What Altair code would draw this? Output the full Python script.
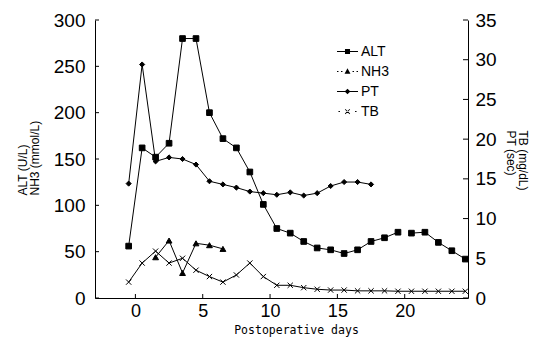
import altair as alt
import pandas as pd

# x positions (postoperative day) of the daily measurements
days = [-0.5, 0.5, 1.5, 2.5, 3.5, 4.5, 5.5, 6.5, 7.5, 8.5, 9.5, 10.5, 11.5,
        12.5, 13.5, 14.5, 15.5, 16.5, 17.5, 18.5, 19.5, 20.5, 21.5, 22.5, 23.5, 24.5]

alt_vals = [56, 162, 152, 167, 280, 280, 200, 172, 162, 136, 101, 75, 70,
            61, 54, 52, 48, 52, 61, 65, 71, 70, 71, 60, 51, 42]
# the ALT line is broken between day 19.5 and day 20.5
alt_segment = ["a"] * 21 + ["b"] * 5
nh3_days = [1.5, 2.5, 3.5, 4.5, 5.5, 6.5]
nh3_vals = [44, 62, 27, 59, 57, 53]
pt_days = [-0.5, 0.5, 1.5, 2.5, 3.5, 4.5, 5.5, 6.5, 7.5, 8.5, 9.5, 10.5, 11.5,
           12.5, 13.5, 14.5, 15.5, 16.5, 17.5]
pt_vals = [14.4, 29.4, 17.2, 17.7, 17.5, 16.8, 14.7, 14.3, 13.9, 13.4, 13.2, 13.0,
           13.3, 12.9, 13.2, 14.1, 14.6, 14.6, 14.3]
tb_vals = [2.0, 4.4, 5.9, 4.4, 5.0, 3.5, 2.7, 2.0, 2.9, 4.4, 2.7, 1.6, 1.6,
           1.3, 1.1, 1.0, 1.0, 0.9, 0.9, 0.9, 0.85, 0.85, 0.85, 0.85, 0.85, 0.85]

series_order = ["ALT", "NH3", "PT", "TB"]
left_ticks = [0, 50, 100, 150, 200, 250, 300]
right_ticks = [0, 5, 10, 15, 20, 25, 30, 35]
x_ticks = [0, 5, 10, 15, 20]

rows = []
for d, v, s in zip(days, alt_vals, alt_segment):
    rows.append({"series": "ALT", "day": d, "value": v, "seg": "ALT" + s})
for d, v in zip(nh3_days, nh3_vals):
    rows.append({"series": "NH3", "day": d, "value": v, "seg": "NH3"})
for d, v in zip(pt_days, pt_vals):
    rows.append({"series": "PT", "day": d, "value": v, "seg": "PT"})
for d, v in zip(days, tb_vals):
    rows.append({"series": "TB", "day": d, "value": v, "seg": "TB"})
df = pd.DataFrame(rows)

W, H = 373, 278
FONT = "Liberation Sans"

xscale = alt.Scale(domain=[-3, 24.7], nice=False, zero=False)
lscale = alt.Scale(domain=[0, 300], nice=False)
rscale = alt.Scale(domain=[0, 35], nice=False)

xaxis = alt.Axis(values=x_ticks, title="Postoperative days", grid=False, ticks=False, tickSize=0,
                 labelFont=FONT, labelFontSize=18, labelPadding=4, labelColor="black",
                 labelOverlap=False, labelFlush=False, domainColor="black",
                 titleFont="DejaVu Sans Mono", titleFontSize=11.5, titleFontWeight="normal",
                 titleColor="black", titleX=201, titleY=35, titleBaseline="alphabetic",
                 titleAlign="center")

laxis = alt.Axis(values=left_ticks, title=["ALT (U/L)", "NH3 (mmol/L)"], grid=False,
                 ticks=False, tickSize=0, labelFont=FONT, labelFontSize=19, labelPadding=10,
                 labelColor="black", domainColor="black", titleFont=FONT, titleFontSize=12,
                 titleFontWeight="normal", titleColor="black", titleAngle=270,
                 titleAlign="left", titleBaseline="bottom", titleX=-66, titleY=175,
                 titleLineHeight=12, labelOverlap=False)

raxis = alt.Axis(values=right_ticks, orient="right", title=["TB (mg/dL)", "PT (sec)"],
                 grid=False, ticks=False, tickSize=0, labelFont=FONT, labelFontSize=19,
                 labelPadding=7, labelColor="black", domainColor="black", titleFont=FONT,
                 titleFontSize=12, titleFontWeight="normal", titleColor="black",
                 titleAngle=90, titleAlign="left", titleBaseline="bottom", titleX=47,
                 titleY=110, titleLineHeight=12, labelOverlap=False)

base = alt.Chart(df)
X = alt.X("day:Q", scale=xscale, axis=xaxis)
YL = alt.Y("value:Q", scale=lscale, axis=laxis)
YR = alt.Y("value:Q", scale=rscale, axis=raxis)

def pts(name, shape, size, y):
    return base.transform_filter(alt.datum.series == name).mark_point(
        shape=shape, filled=True, color="black", stroke="black", strokeWidth=1,
        size=size, opacity=1).encode(x=X, y=y)

xshape = "M-1,-1L1,1M-1,1L1,-1"

left_lines = base.transform_filter(
    (alt.datum.series == "ALT") | (alt.datum.series == "NH3")
).mark_line(color="black", strokeWidth=1).encode(x=X, y=YL, detail="seg:N")

# legend symbols: a short line with the marker, drawn as filled paths
t = "0.05"
legend_shapes = [
    f"M-1,-{t}H1V{t}H-1Z M-0.24,-0.24H0.24V0.24H-0.24Z",
    f"M-1,-{t}H-0.86V{t}H-1Z M-0.62,-{t}H-0.48V{t}H-0.62Z M0.48,-{t}H0.62V{t}H0.48Z "
    f"M0.86,-{t}H1V{t}H0.86Z M0,-0.3L0.28,0.22H-0.28Z",
    f"M-1,-{t}H1V{t}H-1Z M0,-0.27L0.27,0L0,0.27L-0.27,0Z",
    f"M-0.86,-{t}H-0.72V{t}H-0.86Z M0.72,-{t}H0.86V{t}H0.72Z "
    "M-0.25,-0.2L-0.2,-0.25L0.25,0.2L0.2,0.25Z M-0.25,0.2L-0.2,0.25L0.25,-0.2L0.2,-0.25Z",
]

legend_layer = base.mark_point(filled=True, color="black", opacity=0).encode(
    x=X, y=YL,
    shape=alt.Shape("series:N", scale=alt.Scale(domain=series_order, range=legend_shapes),
                    legend=alt.Legend(title=None, orient="none", legendX=241, legendY=20,
                                      padding=0, symbolSize=441, symbolOpacity=1,
                                      symbolFillColor="black", labelFont=FONT,
                                      labelFontSize=14, labelColor="black", labelOffset=2,
                                      rowPadding=1, symbolOffset=0)),
)

lt = pd.DataFrame({"value": left_ticks})
rt = pd.DataFrame({"value": right_ticks})
xt = pd.DataFrame({"day": x_ticks})

left_tick_rules = alt.Chart(lt).mark_rule(color="black", strokeWidth=1).encode(
    y=YL, x=alt.value(0), x2=alt.value(4))
x_tick_rules = alt.Chart(xt).mark_rule(color="black", strokeWidth=1).encode(
    x=X, y=alt.value(H), y2=alt.value(H - 4))

left_group = alt.layer(
    left_lines,
    pts("ALT", "square", 32, YL),
    pts("NH3", "triangle-up", 34, YL),
    left_tick_rules,
    x_tick_rules,
    legend_layer,
)

right_lines = base.transform_filter(
    (alt.datum.series == "PT") | (alt.datum.series == "TB")
).mark_line(color="black", strokeWidth=1).encode(x=X, y=YR, detail="seg:N")

right_tick_rules = alt.Chart(rt).mark_rule(color="black", strokeWidth=1).encode(
    y=YR, x=alt.value(W), x2=alt.value(W - 5))

tb_points = base.transform_filter(alt.datum.series == "TB").mark_point(
    shape=xshape, filled=False, color="black", strokeWidth=1, size=28, opacity=1
).encode(x=X, y=YR)

right_group = alt.layer(
    right_lines,
    pts("PT", "diamond", 26, YR),
    tb_points,
    right_tick_rules,
)

chart = alt.layer(left_group, right_group).resolve_scale(y="independent").properties(
    width=W, height=H,
    autosize=alt.AutoSizeParams(type="none"),
    padding={"left": 87, "top": 12, "right": 61, "bottom": 39},
    background="white",
).configure_view(stroke=None)

chart.save("out.html", embed_options={"renderer": "svg", "actions": False})
